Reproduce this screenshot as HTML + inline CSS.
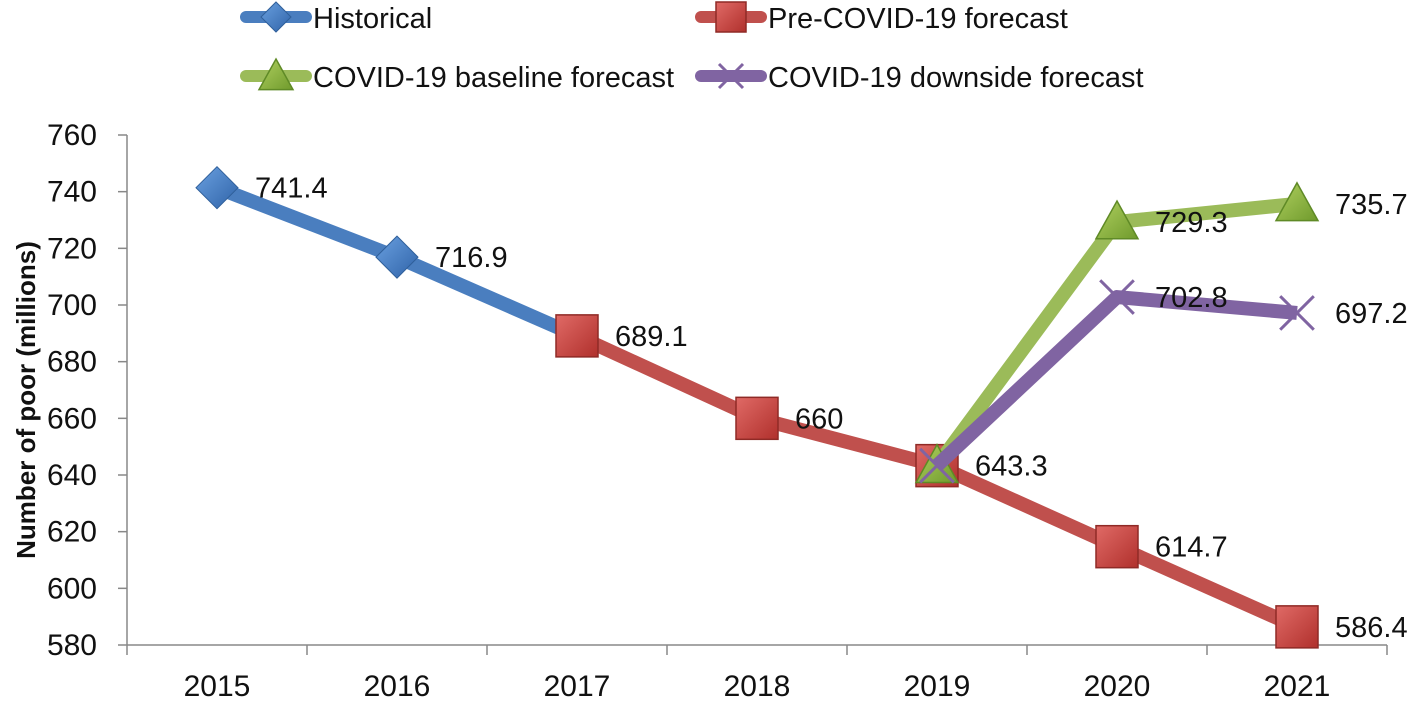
<!DOCTYPE html>
<html><head><meta charset="utf-8"><style>
body{margin:0;background:#fff;}
svg text{font-family:"Liberation Sans",sans-serif;fill:#111;}
</style></head><body>
<svg id="c" width="1417" height="701" xmlns="http://www.w3.org/2000/svg">
<defs>
<linearGradient id="gB" x1="0" y1="0" x2="1" y2="1"><stop offset="0" stop-color="#6aa0e0"/><stop offset="1" stop-color="#2f63a8"/></linearGradient>
<linearGradient id="gR" x1="0" y1="0" x2="1" y2="1"><stop offset="0" stop-color="#e06a66"/><stop offset="1" stop-color="#b0302c"/></linearGradient>
<linearGradient id="gG" x1="0" y1="0" x2="1" y2="1"><stop offset="0" stop-color="#b0d060"/><stop offset="1" stop-color="#6f9a2c"/></linearGradient>
</defs>
</svg>
<script>
const years=["2015","2016","2017","2018","2019","2020","2021"];
const historical=[741.4,716.9,689.1,null,null,null,null];
const preCovid=[null,null,689.1,660,643.3,614.7,586.4];
const baseline=[null,null,null,null,643.3,729.3,735.7];
const downside=[null,null,null,null,643.3,702.8,697.2];
const yTicks=[580,600,620,640,660,680,700,720,740,760];
const NS="http://www.w3.org/2000/svg";
const svg=document.getElementById('c');
const X0=127,STEP=180,Y0=645,Y1=135,VMIN=580,VMAX=760;
const xs=i=>X0+STEP*(i+0.5);
const ys=v=>Y0-(v-VMIN)/(VMAX-VMIN)*(Y0-Y1);
function mk(t,a,p){const e=document.createElementNS(NS,t);for(const k in a)e.setAttribute(k,a[k]);(p||svg).appendChild(e);return e;}
let g=mk('g',{});


mk('line',{x1:X0,y1:Y1,x2:X0,y2:Y0,stroke:'#888','stroke-width':1.5},g);
yTicks.forEach(v=>{
 mk('line',{x1:X0-9,y1:ys(v),x2:X0,y2:ys(v),stroke:'#888','stroke-width':1.5},g);
 const t=mk('text',{x:X0-30,y:ys(v)+10,'text-anchor':'end','font-size':30},g);t.textContent=v;
 
 
});
let gx=mk('g',{});


mk('line',{x1:X0,y1:Y0,x2:X0+STEP*years.length,y2:Y0,stroke:'#888','stroke-width':1.5},gx);
for(let i=0;i<=years.length;i++)mk('line',{x1:X0+STEP*i,y1:Y0,x2:X0+STEP*i,y2:Y0+10,stroke:'#888','stroke-width':1.5},gx);
years.forEach((y,i)=>{const t=mk('text',{x:xs(i),y:Y0+51,'text-anchor':'middle','font-size':30},gx);t.textContent=y;
 
 });
const yt=mk('text',{x:0,y:0,transform:'translate(35,400) rotate(-90)','text-anchor':'middle','font-size':26,'font-weight':'bold'});
yt.textContent='Number of poor (millions)';


function marker(type,x,y,p,s){
 s=s||21;
 if(type==='diamond')mk('polygon',{points:`${x},${y-s} ${x+s},${y} ${x},${y+s} ${x-s},${y}`,fill:'url(#gB)',stroke:'#2f5f9a','stroke-width':1},p);
 if(type==='square')mk('rect',{x:x-s,y:y-s,width:2*s,height:2*s,fill:'url(#gR)',stroke:'#8f2a26','stroke-width':1.5},p);
 if(type==='tri')mk('polygon',{points:`${x},${y-s} ${x+s},${y+s*0.8} ${x-s},${y+s*0.8}`,fill:'url(#gG)',stroke:'#5f8a26','stroke-width':1.5},p);
 if(type==='x'){mk('line',{x1:x-s*.8,y1:y-s*.8,x2:x+s*.8,y2:y+s*.8,stroke:'#8064a2','stroke-width':3},p);mk('line',{x1:x-s*.8,y1:y+s*.8,x2:x+s*.8,y2:y-s*.8,stroke:'#8064a2','stroke-width':3},p);}
}
const series=[
 {name:'historical',data:historical,color:'#4a7ebf',m:'diamond'},
 {name:'pre-covid',data:preCovid,color:'#c0504d',m:'square'},
 {name:'baseline',data:baseline,color:'#9bbb59',m:'tri'},
 {name:'downside',data:downside,color:'#8064a2',m:'x'}];
series.forEach(s=>{
 const sg=mk('g',{});
 
 
 const pts=[];s.data.forEach((v,i)=>{if(v!==null)pts.push([xs(i),ys(v)]);});
 mk('polyline',{points:pts.map(p=>p.join(',')).join(' '),fill:'none',stroke:s.color,'stroke-width':14,'stroke-linejoin':'round'},sg);
 s.data.forEach((v,i)=>{if(v!==null)marker(s.m,xs(i),ys(v),sg);});
});
const labelled=[[historical,[0,1]],[preCovid,[2,3,4,5,6]],[baseline,[5,6]],[downside,[5,6]]];
labelled.forEach(([d,idx])=>idx.forEach(i=>{
 const t=mk('text',{x:xs(i)+38,y:ys(d[i])+10,'font-size':29});t.textContent=d[i];
 
 
}));
const leg=[['Historical','diamond','#4a7ebf',240,17],['Pre-COVID-19 forecast','square','#c0504d',695,17],['COVID-19 baseline forecast','tri','#9bbb59',240,76],['COVID-19 downside forecast','x','#8064a2',695,76]];
leg.forEach(l=>{
 const lg=mk('g',{});
 
 
 mk('line',{x1:l[3]+6,y1:l[4],x2:l[3]+66,y2:l[4],stroke:l[2],'stroke-width':12,'stroke-linecap':'round'},lg);
 marker(l[1],l[3]+36,l[4],lg,l[1]==='tri'?17:15);
 const t=mk('text',{x:l[3]+73,y:l[4]+11,'font-size':29},lg);t.textContent=l[0];
});
</script>
</body></html>
